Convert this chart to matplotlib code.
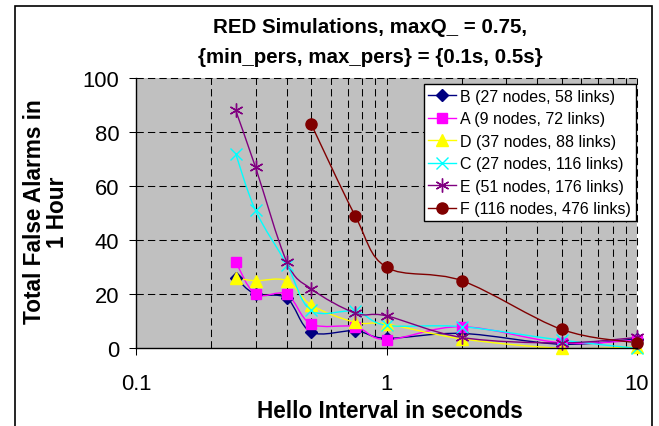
import numpy as np
import matplotlib
matplotlib.use("Agg")
import matplotlib.pyplot as plt
from matplotlib.path import Path
from matplotlib.patches import PathPatch, Rectangle
from matplotlib.lines import Line2D

plt.rcParams['font.family'] = ['Liberation Sans', 'DejaVu Sans']

# ---------------- data ----------------
hello = [0.25, 0.3, 0.4, 0.5, 0.75, 1, 2, 5, 10]
hello_f = [0.5, 0.75, 1, 2, 5, 10]
series_b = [26, 20, 18.5, 6, 6.5, 3.7, 5.5, 1.5, 3.5]
series_a = [32, 20, 20, 9, 8, 3.2, 8, 2, 3]
series_d = [26, 25, 25, 16, 9.6, 9, 3.5, 0, 0.5]
series_c = [72, 51, 31, 14, 13.7, 8.5, 8, 3, 0]
series_e = [88, 67, 32, 22, 13, 12, 4, 2, 4]
series_f = [83, 49, 30, 25, 7, 2]
labels = ["B (27 nodes, 58 links)", "A (9 nodes, 72 links)", "D (37 nodes, 88 links)",
          "C (27 nodes, 116 links)", "E (51 nodes, 176 links)", "F (116 nodes, 476 links)"]
title1 = "RED Simulations, maxQ_ = 0.75,"
title2 = "{min_pers, max_pers} = {0.1s, 0.5s}"
ylabel = "Total False Alarms in\n1 Hour"
xlabel = "Hello Interval in seconds"

W, H = 659, 427
fig = plt.figure(figsize=(W / 100, H / 100), dpi=100)
fig.patch.set_facecolor('white')

L, R, T, B = 136, 637, 79, 349.3
ax = fig.add_axes([L / W, (H - B) / H, (R - L) / W, (B - T) / H])
ax.set_facecolor('#C0C0C0')
ax.set_xscale('log')
ax.set_xlim(0.1, 10)
ax.set_ylim(0, 100)

# grid
dash = (0, (7, 4))
for v in [0.2, 0.3, 0.4, 0.5, 0.6, 0.7, 0.8, 0.9, 1, 2, 3, 4, 5, 6, 7, 8, 9, 10]:
    ax.axvline(v, color='black', lw=0.75, ls=dash, zorder=1, clip_on=False)
for v in [20, 40, 60, 80, 100]:
    ax.axhline(v, color='black', lw=0.75, ls=dash, zorder=1, clip_on=False)

for s in ['top', 'right']:
    ax.spines[s].set_visible(False)
for s in ['left', 'bottom']:
    ax.spines[s].set_color('black')
    ax.spines[s].set_linewidth(1.0)
    ax.spines[s].set_zorder(5)

ax.set_yticks([0, 20, 40, 60, 80, 100])
ax.set_xticks([0.1, 1, 10])
ax.set_xticklabels(['0.1', '1', '10'])
ax.xaxis.set_minor_locator(matplotlib.ticker.NullLocator())
ax.tick_params(axis='y', direction='out', length=5, width=0.75, pad=7, labelsize=15.8)
ax.tick_params(axis='x', direction='out', length=5, width=0.75, pad=13, labelsize=15.8)


def smooth(ax, xs, ys, color):
    pts = np.column_stack([np.log10(np.asarray(xs, float)), np.asarray(ys, float)])
    n = len(pts)
    verts = [pts[0]]
    codes = [Path.MOVETO]
    for i in range(n - 1):
        p0 = pts[i - 1] if i > 0 else pts[i]
        p1 = pts[i]
        p2 = pts[i + 1]
        p3 = pts[i + 2] if i + 2 < n else pts[i + 1]
        c1 = p1 + (p2 - p0) / 6.0
        c2 = p2 - (p3 - p1) / 6.0
        verts += [c1, c2, p2]
        codes += [Path.CURVE4] * 3
    verts = np.array(verts)
    verts[:, 0] = 10 ** verts[:, 0]
    patch = PathPatch(Path(verts, codes), fill=False, edgecolor=color, lw=1.0, zorder=3)
    ax.add_patch(patch)


specs = [
    (hello, series_b, '#000080', 'D', 6.5, '#000080'),
    (hello, series_a, '#FF00FF', 's', 7.5, '#FF00FF'),
    (hello, series_d, '#FFFF00', '^', 8.5, '#FFFF00'),
    (hello, series_c, '#00FFFF', 'x', 8, '#00FFFF'),
    (hello, series_e, '#800080', (6, 2, 0), 10, '#800080'),
    (hello_f, series_f, '#800000', 'o', 8, '#800000'),
]
handles = []
for (xs, ys, c, m, ms, fc), lab in zip(specs, labels):
    smooth(ax, xs, ys, c)
    ax.plot(xs, ys, ls='none', marker=m, ms=ms, color=c, mfc=fc, mec=c, mew=1.0,
            zorder=4, clip_on=False)
    handles.append(Line2D([], [], color=c, lw=1.0, marker=m, ms=ms, mfc=fc, mec=c, mew=1.0))

leg = ax.legend(handles, labels, loc='upper right',
                bbox_to_anchor=(636 / W, 1 - 85 / H), bbox_transform=fig.transFigure,
                borderaxespad=0, fontsize=11.5, frameon=True, fancybox=False,
                framealpha=1, edgecolor='black', handlelength=1.75, handletextpad=0.25,
                labelspacing=0.47, borderpad=0.3)
leg.get_frame().set_linewidth(1.0)
leg.set_zorder(10)

# titles and labels
fig.text(370 / W, 1 - 33 / H, title1, ha='center', va='baseline', fontsize=14.8, fontweight='bold')
fig.text(370 / W, 1 - 63 / H, title2, ha='center', va='baseline', fontsize=14.8, fontweight='bold')
fig.text(46 / W, 1 - 212 / H, ylabel, ha='center', va='center', rotation=90,
         multialignment='center', linespacing=0.95, fontsize=16.3, fontweight='bold')
fig.text(390 / W, 1 - 418 / H, xlabel, ha='center', va='baseline', fontsize=16.3, fontweight='bold')

# outer chart-area frame
fig.patches.append(Rectangle((15 / W, -0.05), (652 - 15) / W, 1.05 - 7 / H,
                             transform=fig.transFigure, fill=False, edgecolor='black',
                             lw=1.2, zorder=0))

fig.savefig('out.png', dpi=100)
